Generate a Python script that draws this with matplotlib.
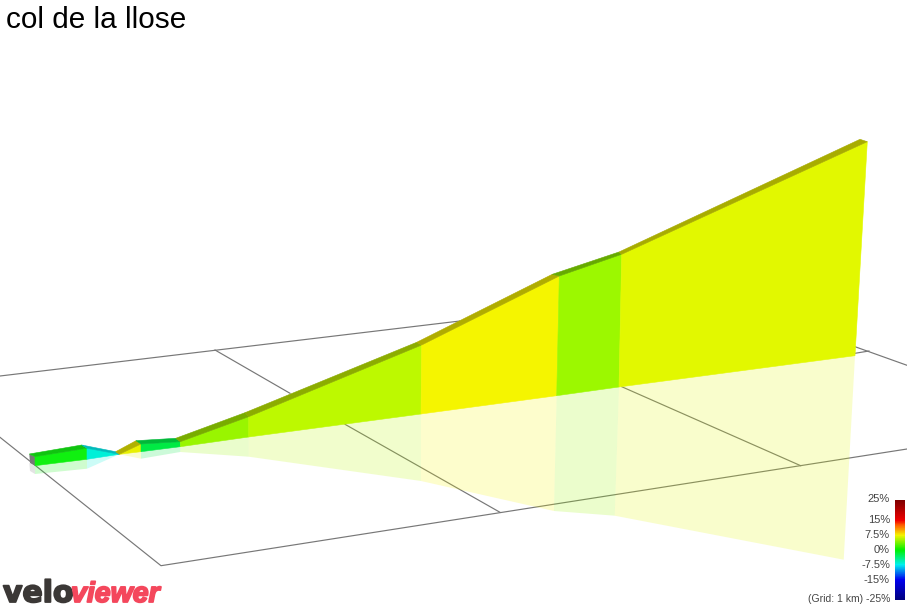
import matplotlib
matplotlib.use('Agg')
import numpy as np
import matplotlib.pyplot as plt
from matplotlib.colors import LinearSegmentedColormap
import matplotlib.patheffects as pe

# profile (projected view, so values are picture units)
top_x = [35, 87, 119.3, 141, 180.3, 248.7, 421.7, 559.3, 621.7, 867.3]
top_y = [456.7, 448.3, 454.3, 444, 441.7, 416.7, 345, 276, 254.3, 141.7]
base_x = [35, 87, 119.3, 141, 180.3, 248.7, 421, 556.7, 619, 855]
base_y = [465.7, 459.3, 454.3, 451.7, 446.7, 437, 414, 395.7, 387, 355.7]
back_x = [29.3, 81.7, 115.7, 136, 175.7, 245, 416.7, 552.3, 619, 860]
back_y = [454, 445, 451.7, 440.7, 438.3, 412.7, 342.3, 274.3, 252, 139.3]
mirror_x = [35, 87, 119.3, 141, 180.3, 248.7, 421, 554, 614.7, 843.7]
mirror_y = [474, 468.7, 454.3, 458.7, 452, 456.7, 481, 511, 515.7, 559.7]

# start cap of the ribbon
cap_x = [29.3, 35, 35, 30]
cap_y = [454, 456.7, 465.7, 463]
cap_mirror_y = [463, 465.7, 474, 471]

# ground grid
grid_lines = [
    ([0, 460], [376, 321]),
    ([215, 290], [350, 393.3]),
    ([345, 500], [424.3, 512.3]),
    ([0, 161, 907], [437.3, 565.7, 449]),
    ([621.7, 800.7], [386.7, 465.7]),
    ([855, 907], [346.7, 365.3]),
    ([855, 869], [353.3, 351]),
]

wall_colors = ['#10f010', '#00f0d8', '#e8f000', '#00ea44', '#99f500',
               '#bdf900', '#f5f500', '#9cf800', '#e2f800']
ribbon_colors = ['#10c410', '#00baba', '#b0b000', '#00b838', '#78ac00',
                 '#8cac00', '#b0ac00', '#66aa00', '#a8ac00']

scale_labels = ['25%', '15%', '7.5%', '0%', '-7.5%', '-15%']
scale_label_y = [499.5, 520, 535, 550, 565, 580]
scale_stops = [0, 0.2, 0.25, 0.35, 0.5, 0.65, 0.8, 1]
scale_colors = ['#800000', '#f00000', '#ff6000', '#f5f500', '#00f000', '#00f0f0', '#0000f0', '#000080']

plt.rcParams['font.family'] = ['Liberation Sans', 'DejaVu Sans']

fig = plt.figure(figsize=(9.07, 6.07), dpi=100)
ax = fig.add_axes([0, 0, 1, 1])
ax.axis('off')

for xs, ys in grid_lines:
    ax.plot(xs, ys, color='#777777', linewidth=0.85, zorder=1)

# reflection on the ground
ax.fill(cap_x, cap_mirror_y, color='#777777', alpha=0.2, linewidth=0, zorder=2)
for i in range(len(wall_colors)):
    ax.fill([base_x[i], base_x[i + 1], mirror_x[i + 1], mirror_x[i]],
            [base_y[i], base_y[i + 1], mirror_y[i + 1], mirror_y[i]],
            color=wall_colors[i], alpha=0.2, linewidth=0, zorder=2)

# wall and the ribbon on top of it
ax.fill(cap_x, cap_y, color='#777777', linewidth=0, zorder=3)
for i in range(len(wall_colors)):
    ax.fill([base_x[i], base_x[i + 1], top_x[i + 1], top_x[i]],
            [base_y[i], base_y[i + 1], top_y[i + 1], top_y[i]],
            facecolor=wall_colors[i], edgecolor=wall_colors[i], linewidth=0.4, zorder=3)
    ax.fill([top_x[i], top_x[i + 1], back_x[i + 1], back_x[i]],
            [top_y[i], top_y[i + 1], back_y[i + 1], back_y[i]],
            facecolor=ribbon_colors[i], edgecolor=ribbon_colors[i], linewidth=0.4, zorder=3)

# colour scale
cmap = LinearSegmentedColormap.from_list('grade', list(zip(scale_stops, scale_colors)))
gradient = np.linspace(0, 1, 100).reshape(-1, 1)
ax.imshow(gradient, cmap=cmap, extent=(895, 905, 600, 500), aspect='auto', zorder=4)
ax.set_xlim(0, 907)
ax.set_ylim(607, 0)
for label, y in zip(scale_labels, scale_label_y):
    ax.text(890, y, label, ha='right', va='center', fontsize=8, color='#444444', zorder=5)
ax.text(890, 599.5, '(Grid: 1 km) -25%', ha='right', va='center', fontsize=7.5, color='#444444', zorder=5)

ax.text(6, 27.5, 'col de la llose', fontsize=21.4, color='black', ha='left', va='baseline')

# logo
stroke = [pe.withStroke(linewidth=1.3, foreground='#3b3836')]
ax.text(3, 602, 'velo', fontsize=21.5, fontweight='bold', family='DejaVu Sans',
        color='#3b3836', ha='left', va='baseline', path_effects=stroke)
stroke = [pe.withStroke(linewidth=1.3, foreground='#f4475c')]
ax.text(71, 602, 'viewer', fontsize=20.5, fontweight='bold', style='italic',
        color='#f4475c', ha='left', va='baseline', path_effects=stroke)

fig.savefig('out.png', dpi=100)
